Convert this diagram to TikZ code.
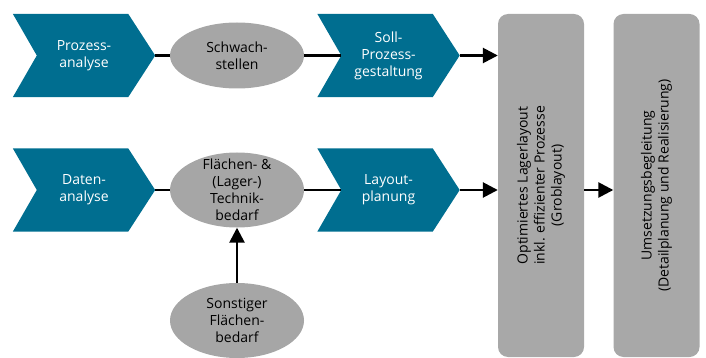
\documentclass[tikz,border=0pt]{standalone}
\usepackage{fontspec}
\setmainfont{Open Sans}
\usetikzlibrary{shapes.geometric,arrows.meta,backgrounds}
\definecolor{petrol}{HTML}{006E90}
\definecolor{lightgrey}{HTML}{A6A6A6}
\definecolor{boxgrey}{HTML}{A8A8A8}
\tikzset{
  chevron/.style={rectangle, minimum width=142pt, minimum height=83pt, inner sep=0pt,
    text=white, align=center, font=\fontsize{14}{17}\selectfont},
  oval/.style={ellipse, fill=lightgrey, minimum width=134pt, inner sep=0pt},
  ovaltext/.style={align=center, font=\fontsize{14}{17}\selectfont},
  phase/.style={rectangle, rounded corners=10pt, fill=boxgrey, minimum width=86pt,
    minimum height=343pt, inner sep=0pt},
  phasetext/.style={rotate=90, align=center, font=\fontsize{14}{17}\selectfont},
  link/.style={line width=2.6pt},
  flow/.style={line width=2.6pt, -{Triangle[length=15pt,width=15pt]}}
}
\begin{document}
\begin{tikzpicture}[x=1pt,y=-1pt]
\useasboundingbox (0,0) rectangle (706,358);

% process chevrons
\node[chevron] (pa) at (84,55.5) {Prozess-\\analyse};
\node[chevron] (sp) at (388.5,55.5) {Soll-\\Prozess-\\gestaltung};
\node[chevron] (da) at (84,190) {Daten-\\analyse};
\node[chevron] (lp) at (388.5,190) {Layout-\\planung};

\begin{scope}[on background layer]
\foreach \n in {pa,sp,da,lp}
  \fill[petrol] (\n.north west) -- ([xshift=-27pt]\n.north east) -- (\n.east)
    -- ([xshift=-27pt]\n.south east) -- (\n.south west) -- ([xshift=24pt]\n.west) -- cycle;
\end{scope}

% intermediate results
\node[oval, minimum height=66pt, label={[ovaltext]center:Schwach-\\stellen}] (sw) at (237,55.5) {};
\node[oval, minimum height=75pt, label={[ovaltext]center:Flächen- \&\\(Lager-)\\Technik-\\bedarf}] (ft) at (237,190) {};
\node[oval, minimum height=75pt, label={[ovaltext]center:Sonstiger\\Flächen-\\bedarf}] (so) at (237,320.5) {};

% project phases
\node[phase, label={[phasetext]center:Optimiertes Lagerlayout\\inkl. effizienter Prozesse\\(Groblayout)}] (b1) at (541,185.5) {};
\node[phase, label={[phasetext]center:Umsetzungsbegleitung\\(Detailplanung und Realisierung)}] (b2) at (656.5,185.5) {};

% connectors
\draw[link] (pa.east) -- (sw.west);
\draw[link] (sw.east) -- ([xshift=24pt]sp.west);
\draw[link] (da.east) -- (ft.west);
\draw[link] (ft.east) -- ([xshift=24pt]lp.west);
\draw[flow] (so.north) -- (ft.south);
\draw[flow] (sp.east) -- (sp.east -| b1.west);
\draw[flow] (lp.east) -- (lp.east -| b1.west);
\draw[flow] (b1.east |- lp.east) -- (b2.west |- lp.east);
\end{tikzpicture}
\end{document}
